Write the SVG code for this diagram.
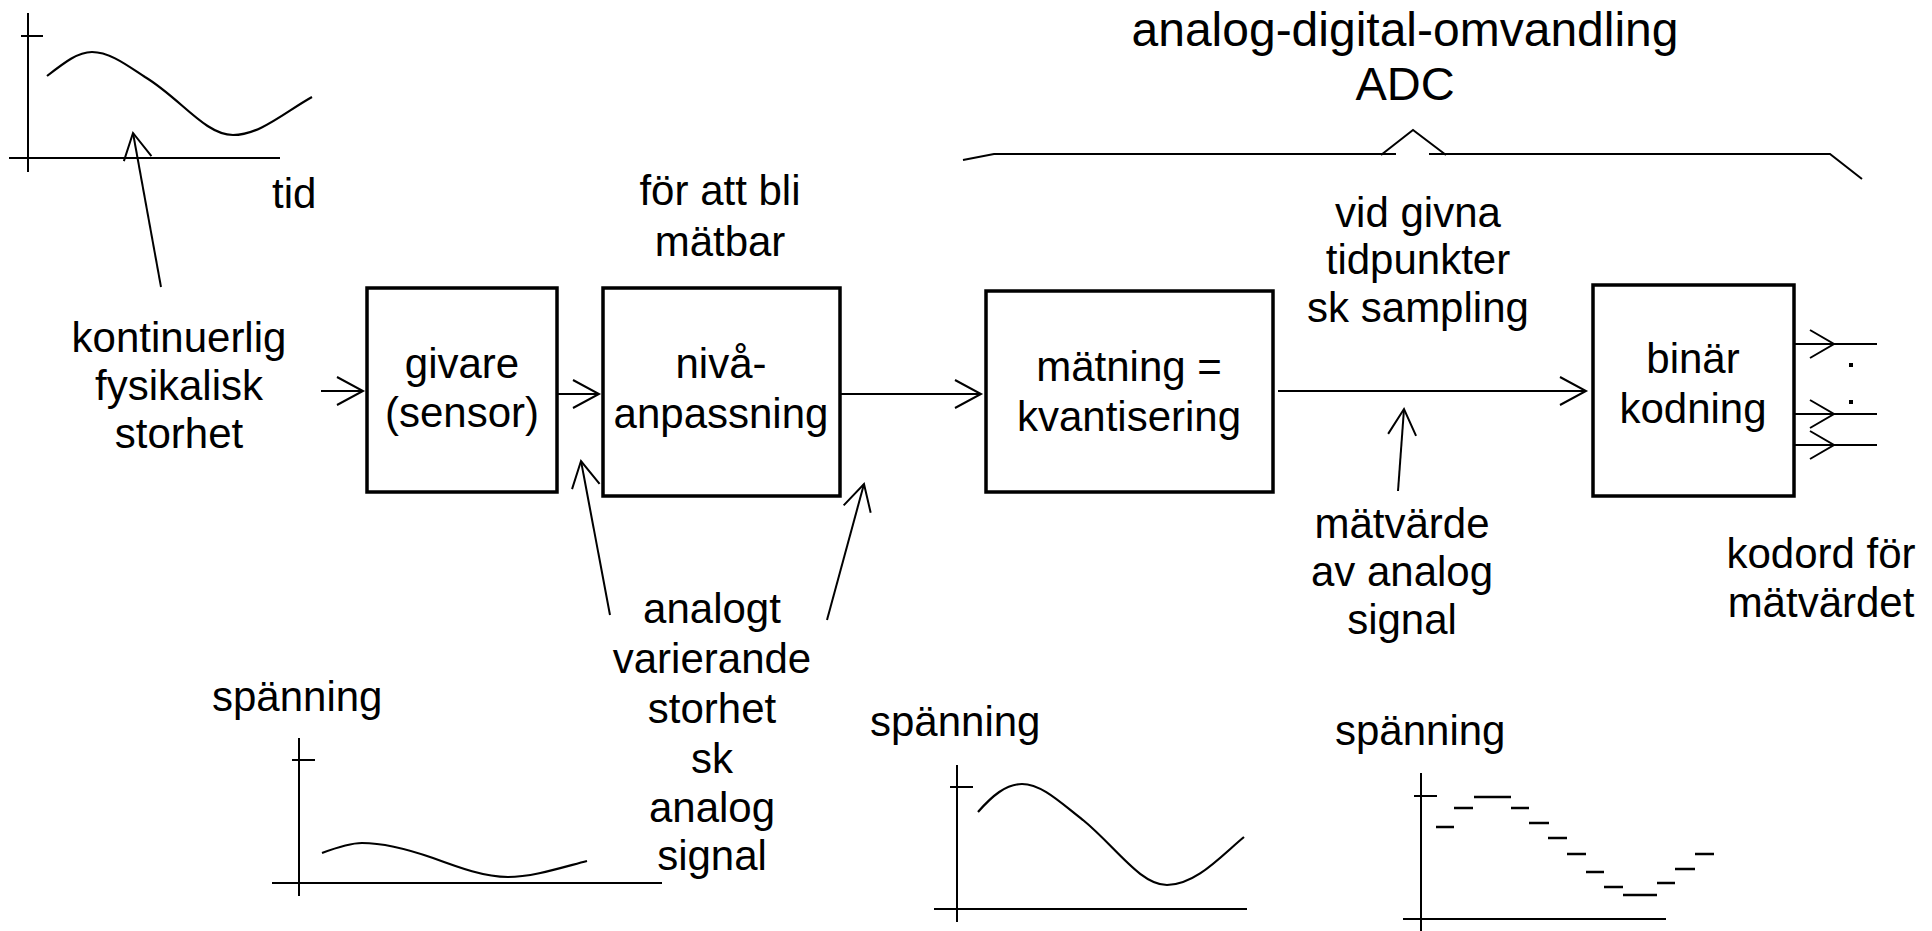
<svg xmlns="http://www.w3.org/2000/svg" width="1932" height="931" viewBox="0 0 1932 931">
<style>
text{font-family:"Liberation Sans",Arial,sans-serif;font-size:42px;fill:#000}
.c{text-anchor:middle}
.box{fill:#fff;stroke:#000;stroke-width:3.5}
.ln{fill:none;stroke:#000;stroke-width:2}
.ax{fill:none;stroke:#000;stroke-width:2}
.cv{fill:none;stroke:#000;stroke-width:2.2}
.st{stroke:#000;stroke-width:2.5}
</style>
<defs>
<marker id="ah" viewBox="0 0 26 28" refX="26" refY="14" markerWidth="26" markerHeight="28" markerUnits="userSpaceOnUse" orient="auto" overflow="visible">
<path d="M0,0 L26,14 L0,28" fill="none" stroke="#000" stroke-width="2"/>
</marker>
</defs>
<rect width="1932" height="931" fill="#fff"/>

<g id="title">
<text class="c" x="1405" y="46" style="font-size:48px">analog-digital-omvandling</text>
<text class="c" x="1405" y="100" style="font-size:47px">ADC</text>
<path class="ln" d="M963,160 L994,154 L1396,154 M1381,155 L1413,130 L1446,155 M1429,154 L1830,154 L1862,179"/>
</g>

<g id="graph-top">
<path class="ax" d="M28,13 V172 M21,36 H43 M9,158 H280"/>
<path class="cv" d="M47,76 C65,62 78,52 92,52 C110,52 128,66 145,77 C180,98 205,135 233,135 C260,135 285,112 312,97"/>
<text x="272" y="208">tid</text>
</g>

<g id="label-kontinuerlig">
<text class="c" x="179" y="352">kontinuerlig</text>
<text class="c" x="179" y="400">fysikalisk</text>
<text class="c" x="179" y="448">storhet</text>
</g>

<g id="node-givare">
<rect class="box" x="367" y="288" width="190" height="204"/>
<text class="c" x="462" y="378">givare</text>
<text class="c" x="462" y="427">(sensor)</text>
</g>

<g id="label-matbar">
<text class="c" x="720" y="205">för att bli</text>
<text class="c" x="720" y="256">mätbar</text>
</g>

<g id="node-niva">
<rect class="box" x="603" y="288" width="237" height="208"/>
<text class="c" x="721" y="378">nivå-</text>
<text class="c" x="721" y="428">anpassning</text>
</g>

<g id="node-matning">
<rect class="box" x="986" y="291" width="287" height="201"/>
<text class="c" x="1129" y="381">mätning =</text>
<text class="c" x="1129" y="431">kvantisering</text>
</g>

<g id="label-sampling">
<text class="c" x="1418" y="227">vid givna</text>
<text class="c" x="1418" y="274">tidpunkter</text>
<text class="c" x="1418" y="322">sk sampling</text>
</g>

<g id="node-binar">
<rect class="box" x="1593" y="285" width="201" height="211"/>
<text class="c" x="1693" y="373">binär</text>
<text class="c" x="1693" y="423">kodning</text>
</g>

<g id="label-matvarde">
<text class="c" x="1402" y="538">mätvärde</text>
<text class="c" x="1402" y="586">av analog</text>
<text class="c" x="1402" y="634">signal</text>
</g>

<g id="label-kodord">
<text class="c" x="1821" y="568">kodord för</text>
<text class="c" x="1821" y="617">mätvärdet</text>
</g>

<g id="label-analogt">
<text class="c" x="712" y="623">analogt</text>
<text class="c" x="712" y="673">varierande</text>
<text class="c" x="712" y="723">storhet</text>
<text class="c" x="712" y="773">sk</text>
<text class="c" x="712" y="822">analog</text>
<text class="c" x="712" y="870">signal</text>
</g>

<g id="connectors">
<line class="ln" x1="161" y1="287" x2="133" y2="133" marker-end="url(#ah)"/>
<line class="ln" x1="321" y1="391" x2="363" y2="391" marker-end="url(#ah)"/>
<line class="ln" x1="557" y1="394" x2="599" y2="394" marker-end="url(#ah)"/>
<line class="ln" x1="840" y1="394" x2="981" y2="394" marker-end="url(#ah)"/>
<line class="ln" x1="1278" y1="391" x2="1586" y2="391" marker-end="url(#ah)"/>
<line class="ln" x1="1398" y1="491" x2="1404" y2="409" marker-end="url(#ah)"/>
<line class="ln" x1="610" y1="615" x2="581" y2="461" marker-end="url(#ah)"/>
<line class="ln" x1="827" y1="620" x2="864" y2="484" marker-end="url(#ah)"/>
<path class="ln" d="M1794,344 H1877 M1810,330 L1834,344 L1810,358"/>
<path class="ln" d="M1794,414 H1877 M1810,400 L1834,414 L1810,428"/>
<path class="ln" d="M1794,445 H1877 M1810,431 L1834,445 L1810,459"/>
<rect x="1849" y="363" width="4" height="4" fill="#000"/>
<rect x="1849" y="400" width="4" height="4" fill="#000"/>
</g>

<g id="graph-bottom-left">
<text x="212" y="711">spänning</text>
<path class="ax" d="M299,738 V896 M292,760 H315 M272,883 H662"/>
<path class="cv" d="M322,853 C338,847 350,843 362,843 C385,843 410,850 433,858 C460,868 485,877 508,877 C532,877 560,868 587,861"/>
</g>

<g id="graph-bottom-mid">
<text x="870" y="736">spänning</text>
<path class="ax" d="M957,765 V922 M950,787 H973 M934,909 H1247"/>
<path class="cv" d="M978,812 C992,796 1006,784 1022,784 C1042,784 1062,804 1083,820 C1115,846 1140,885 1167,885 C1196,885 1222,855 1244,837"/>
</g>

<g id="graph-bottom-right">
<text x="1335" y="745">spänning</text>
<path class="ax" d="M1421,773 V931 M1414,796 H1437 M1403,919 H1666"/>
<path class="st" d="M1436,827 H1454 M1454,808 H1473 M1474,797 H1511 M1511,808 H1529 M1529,823 H1549 M1548,838 H1567 M1567,854 H1586 M1586,872 H1604 M1604,887 H1623 M1623,895 H1657 M1657,883 H1675 M1675,869 H1695 M1695,854 H1714"/>
</g>
</svg>
